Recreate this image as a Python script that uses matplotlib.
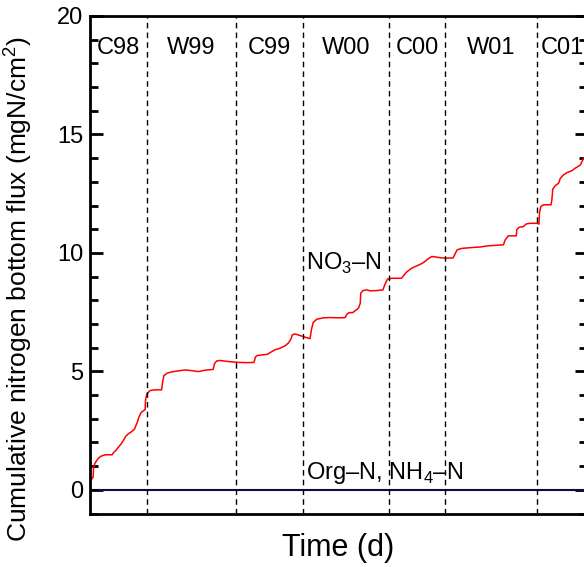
import numpy as np
import matplotlib
matplotlib.use('Agg')
import matplotlib.pyplot as plt
from matplotlib.ticker import MultipleLocator

plt.rcParams['font.family'] = ['Liberation Sans', 'DejaVu Sans']
plt.rcParams['mathtext.fontset'] = 'custom'
plt.rcParams['mathtext.rm'] = 'Liberation Sans'

# cumulative NO3-N bottom flux
days = [2, 7, 8, 11, 19, 26, 35, 50, 53, 58, 64, 70, 75, 80, 86, 94, 100, 103,
        107, 110, 115, 121, 124, 125, 128, 135, 146, 161, 163, 166, 173, 184,
        199, 214, 229, 244, 259, 277, 280, 285, 293, 304, 319, 334, 349, 360,
        369, 372, 376, 390, 399, 405, 416, 428, 439, 446, 452, 455, 461, 473,
        484, 495, 498, 502, 510, 525, 540, 563, 574, 578, 583, 591, 597, 604,
        608, 609, 614, 623, 630, 645, 659, 663, 669, 679, 701, 705, 711, 720,
        731, 743, 750, 759, 769, 780, 791, 803, 817, 822, 826, 836, 855, 878,
        896, 915, 930, 934, 941, 959, 960, 965, 975, 981, 990, 1005, 1010,
        1011, 1014, 1020, 1037, 1039, 1041, 1046, 1054, 1058, 1065, 1073,
        1084, 1091, 1103, 1109, 1112, 1118]
no3_n = [0.42, 0.53, 0.91, 1.12, 1.34, 1.43, 1.48, 1.48, 1.57, 1.66, 1.80,
         1.94, 2.08, 2.25, 2.36, 2.46, 2.56, 2.70, 2.88, 3.07, 3.26, 3.35,
         3.38, 3.80, 4.05, 4.19, 4.22, 4.22, 4.50, 4.81, 4.92, 4.98, 5.02,
         5.06, 5.03, 4.99, 5.05, 5.08, 5.32, 5.44, 5.46, 5.43, 5.40, 5.38,
         5.37, 5.37, 5.38, 5.60, 5.67, 5.70, 5.72, 5.79, 5.91, 5.98, 6.08,
         6.19, 6.36, 6.54, 6.58, 6.51, 6.44, 6.38, 6.75, 7.06, 7.20, 7.26,
         7.27, 7.26, 7.27, 7.41, 7.48, 7.48, 7.57, 7.67, 7.88, 8.30, 8.41,
         8.44, 8.40, 8.41, 8.44, 8.65, 8.89, 8.93, 8.93, 9.03, 9.17, 9.31,
         9.42, 9.52, 9.59, 9.73, 9.85, 9.82, 9.79, 9.78, 9.79, 9.99, 10.13,
         10.19, 10.22, 10.25, 10.30, 10.32, 10.34, 10.55, 10.72, 10.72,
         10.97, 11.08, 11.11, 11.22, 11.25, 11.25, 11.22, 11.67, 11.95,
         12.03, 12.03, 12.24, 12.69, 12.83, 12.94, 13.15, 13.29, 13.39,
         13.47, 13.57, 13.71, 13.95, 14.03, 14.10]

# Org-N and NH4-N stay at zero
flat_days = [0, 1118]
org_n = [0, 0]
nh4_n = [0, 0]

# season boundaries (d) and labels
season_edges = [0, 128, 328, 479, 673, 799, 1006, 1118]
season_labels = ['C98', 'W99', 'C99', 'W00', 'C00', 'W01', 'C01']

fig = plt.figure(figsize=(5.84, 5.67), dpi=100)
ax = fig.add_axes([90/584, 1 - 513.5/567, 497/584, 497.5/567])

ax.plot(flat_days, nh4_n, color='black', lw=1.5)
ax.plot([20, 1118], org_n, color='#101050', lw=1.2)
ax.plot(days, no3_n, color='#ff0000', lw=1.1)

for x in season_edges[1:-1]:
    ax.axvline(x, color='black', lw=1.0, ls=(0, (4, 3)))

for i, lab in enumerate(season_labels):
    xc = (season_edges[i] + season_edges[i + 1]) / 2
    ax.text(xc, 18.65, lab, ha='center', va='center', fontsize=17)

ax.text(486, 9.55, 'NO$_3$\u2013N', ha='left', va='center', fontsize=17)
ax.text(486, 0.45, 'Org\u2013N, NH$_4$\u2013N', ha='left', va='baseline', fontsize=17)

ax.set_xlim(0, 1118)
ax.set_ylim(-1, 20)
ax.yaxis.set_major_locator(MultipleLocator(5))
ax.yaxis.set_minor_locator(MultipleLocator(1))
ax.set_xticks([])
ax.tick_params(axis='y', which='both', direction='in', left=True, right=True,
               labelsize=17, width=2, pad=5)
ax.tick_params(axis='y', which='major', length=9)
ax.tick_params(axis='y', which='minor', length=6)
for s in ax.spines.values():
    s.set_linewidth(2)

ax.set_ylabel('Cumulative nitrogen bottom flux (mgN/cm$^2$)', fontsize=19)
ax.yaxis.set_label_coords(-0.112, 0.45)
ax.set_xlabel('Time (d)', fontsize=22, labelpad=14)

fig.savefig('out.png', dpi=100)
